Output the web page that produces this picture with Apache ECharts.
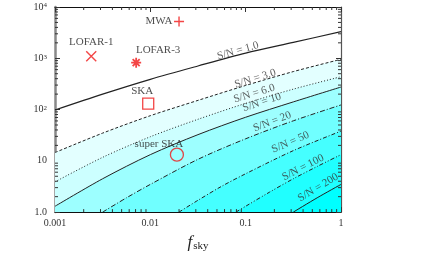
<!DOCTYPE html>
<html>
<head>
<meta charset="utf-8">
<script src="https://cdn.jsdelivr.net/npm/echarts@6/dist/echarts.min.js"></script>
<style>
html,body{margin:0;padding:0;background:#fff;}
#chart{width:422px;height:257px;}
</style>
</head>
<body>
<div id="chart"></div>
<script>
// ---------- data ----------
const fskyGrid = [0.001, 0.00316, 0.01, 0.0316, 0.1, 0.316, 1];
const sn1  = [98, 200, 389, 708, 1259, 2042, 3311];
const sn3  = [14.5, 34.7, 75.9, 151, 295, 550, 955];
const sn6  = [3.89, 11.7, 29.5, 64.6, 132, 250, 437];
const sn10 = [1.30, 4.47, 13.2, 32.4, 70.8, 141, 275];
const sn20Fsky = [0.00316, 0.00562, 0.01, 0.0316, 0.1, 0.316, 1];
const sn20 = [1, 1.9, 3.47, 10.7, 26.9, 60.3, 123];
const sn50Fsky = [0.02, 0.0316, 0.0562, 0.1, 0.316, 1];
const sn50 = [1, 1.7, 3.2, 5.6, 15.8, 38];
const sn100Fsky = [0.079, 0.1, 0.178, 0.316, 0.562, 1];
const sn100 = [1, 1.3, 2.45, 4.47, 7.76, 13.2];
const sn200Fsky = [0.316, 0.562, 1];
const sn200 = [1, 1.9, 3.47];

const snLabelText  = ['S/N = 1.0', 'S/N = 3.0', 'S/N = 6.0', 'S/N = 10', 'S/N = 20', 'S/N = 50', 'S/N = 100', 'S/N = 200'];
const snLabelFsky  = [0.083, 0.126, 0.123, 0.148, 0.19, 0.295, 0.40, 0.575];
const snLabelValue = [1400, 400, 205, 138, 58, 23, 7.4, 3.0];

const telescopeNames = ['LOFAR-1', 'LOFAR-3', 'MWA', 'SKA', 'super SKA'];
const telescopeFsky  = [0.0024, 0.0071, 0.02, 0.0095, 0.019];
const telescopeValue = [1100, 820, 5200, 130, 13.2];

const xTickValues = [0.001, 0.01, 0.1, 1];
const xTickLabels = ['0.001', '0.01', '0.1', '1'];
const yTickValues = [1, 10, 100, 1000, 10000];
const yTickLabels = ['1.0', '10', '10{sup|2}', '10{sup|3}', '10{sup|4}'];
const minorFactors = [2, 3, 4, 5, 6, 7, 8, 9];

// ---------- styles ----------
const FONT = 'Liberation Serif';
const X_MIN = 0.001, X_MAX = 1, Y_MIN = 1, Y_MAX = 10000;
const labelRotation = [16, 17, 17, 18, 21, 23, 27, 31];
const RED = '#f01818';
const telescopeSymbols = [
  'path://M0,0L10,10M10,0L0,10',
  'path://M5,0L5,10M0,5L10,5M1.5,1.5L8.5,8.5M8.5,1.5L1.5,8.5',
  'path://M5,0L5,10M0,5L10,5',
  'rect',
  'circle'
];
const telescopeSizes = [10, 10, 10, 11, 13];
const telescopeBorder = [1.4, 1.8, 1.4, 1.3, 1.3];
const telescopeLabelOffset = [[0, -14], [22, -13], [-20, 0], [-6, -13], [-18, -11]];

function pairs(xs, ys) { return xs.map((x, i) => [x, ys[i]]); }
function matchIdx(vals, v) {
  return vals.findIndex(t => Math.abs(Math.log10(t) - Math.log10(v)) < 1e-6);
}

const contours = [
  { data: pairs(fskyGrid, sn3), fill: '#e3ffff', dash: [3, 2] },
  { data: pairs(fskyGrid, sn6), fill: '#ccffff', dash: [1, 2] },
  { data: pairs(fskyGrid, sn10), fill: '#9dffff', dash: 'solid' },
  { data: pairs(sn20Fsky, sn20), fill: '#70ffff', dash: [5, 2, 1, 2] },
  { data: pairs(sn50Fsky, sn50), fill: '#45ffff', dash: [4, 2, 1, 2] },
  { data: pairs(sn100Fsky, sn100), fill: '#20ffff', dash: [4, 2, 1, 2, 1, 2] },
  { data: pairs(sn200Fsky, sn200), fill: '#00ffff', dash: 'solid' }
];

const series = [];
contours.forEach(c => {
  series.push({
    type: 'line', data: c.data, smooth: 0.3, showSymbol: false, symbol: 'none',
    lineStyle: { color: '#222', width: 1, type: c.dash },
    areaStyle: { color: c.fill, opacity: 1, origin: 'start' },
    silent: true, z: 2
  });
});
series.push({
  type: 'line', data: pairs(fskyGrid, sn1), smooth: 0.3, symbol: 'none',
  lineStyle: { color: '#222', width: 1.2 }, silent: true, z: 3
});

// minor ticks
const xMinor = [], yMinor = [];
[0.001, 0.01, 0.1].forEach(d => minorFactors.forEach(f => xMinor.push(d * f)));
[1, 10, 100, 1000].forEach(d => minorFactors.forEach(f => yMinor.push(d * f)));
series.push({
  type: 'custom', silent: true, clip: false, z: 30,
  encode: { x: 0, y: 1 },
  data: xMinor.map(v => [v, Y_MIN, 0]).concat(yMinor.map(v => [X_MIN, v, 1])),
  renderItem: function (params, api) {
    const kind = api.value(2);
    const st = { stroke: '#333', lineWidth: 1 };
    if (kind === 0) {
      const v = api.value(0);
      const b = api.coord([v, Y_MIN]), t = api.coord([v, Y_MAX]);
      return { type: 'group', children: [
        { type: 'line', shape: { x1: b[0], y1: b[1], x2: b[0], y2: b[1] - 3 }, style: st },
        { type: 'line', shape: { x1: t[0], y1: t[1], x2: t[0], y2: t[1] + 3 }, style: st }
      ]};
    } else {
      const v = api.value(1);
      const l = api.coord([X_MIN, v]), r = api.coord([X_MAX, v]);
      return { type: 'group', children: [
        { type: 'line', shape: { x1: l[0], y1: l[1], x2: l[0] + 3, y2: l[1] }, style: st },
        { type: 'line', shape: { x1: r[0], y1: r[1], x2: r[0] - 3, y2: r[1] }, style: st }
      ]};
    }
  }
});

// contour labels
series.push({
  type: 'scatter', silent: true, z: 25, symbolSize: 1,
  itemStyle: { color: 'rgba(0,0,0,0)' },
  label: { show: true, position: 'inside', fontFamily: FONT, fontSize: 11, color: '#333' },
  data: snLabelText.map((t, i) => ({
    value: [snLabelFsky[i], snLabelValue[i]],
    label: { formatter: t, rotate: labelRotation[i] }
  }))
});

// telescopes
series.push({
  type: 'scatter', silent: true, z: 40,
  data: telescopeNames.map((n, i) => ({
    value: [telescopeFsky[i], telescopeValue[i]],
    symbol: telescopeSymbols[i],
    symbolSize: telescopeSizes[i],
    itemStyle: { color: 'rgba(0,0,0,0)', borderColor: RED, borderWidth: telescopeBorder[i] },
    label: { show: true, formatter: n, position: 'inside', offset: telescopeLabelOffset[i],
             fontFamily: FONT, fontSize: 11, color: '#222' }
  }))
});

const axisCommon = {
  type: 'log', logBase: 10, splitLine: { show: false },
  axisTick: { show: true, inside: true, length: 5, lineStyle: { color: '#333' } }
};

const option = {
  animation: false,
  backgroundColor: '#fff',
  grid: { left: 55, right: 81, top: 7, bottom: 39, show: false },
  xAxis: [
    Object.assign({}, axisCommon, {
      position: 'bottom', min: X_MIN, max: X_MAX,
      axisLine: { show: true, lineStyle: { color: '#111', width: 1.2 } },
      axisLabel: { fontFamily: FONT, fontSize: 10, color: '#333', margin: 6,
        formatter: v => { const i = matchIdx(xTickValues, v); return i >= 0 ? xTickLabels[i] : ''; } },
      name: '{f|f}{s|sky}', nameLocation: 'middle', nameGap: 19,
      nameTextStyle: { rich: {
        f: { fontFamily: FONT, fontStyle: 'italic', fontSize: 17, color: '#222', lineHeight: 20 },
        s: { fontFamily: FONT, fontSize: 11, color: '#222', lineHeight: 20, padding: [8, 0, 0, 1] }
      } }
    }),
    Object.assign({}, axisCommon, {
      position: 'top', min: X_MIN, max: X_MAX,
      axisLine: { show: true, lineStyle: { color: '#111', width: 1.2 } },
      axisLabel: { show: false }
    })
  ],
  yAxis: [
    Object.assign({}, axisCommon, {
      position: 'left', min: Y_MIN, max: Y_MAX,
      axisLine: { show: true, lineStyle: { color: '#888', width: 2.5 } },
      axisLabel: { fontFamily: FONT, fontSize: 10, color: '#333', margin: 8,
        formatter: v => { const i = matchIdx(yTickValues, v); return i >= 0 ? yTickLabels[i] : ''; },
        rich: { sup: { fontFamily: FONT, fontSize: 7, color: '#333', lineHeight: 8, verticalAlign: 'top' } } }
    }),
    Object.assign({}, axisCommon, {
      position: 'right', min: Y_MIN, max: Y_MAX,
      axisLine: { show: true, lineStyle: { color: '#555', width: 1.2 } },
      axisLabel: { show: false }
    })
  ],
  series: series
};

const chart = echarts.init(document.getElementById('chart'), null, { renderer: 'canvas' });
chart.setOption(option);
</script>
</body>
</html>
